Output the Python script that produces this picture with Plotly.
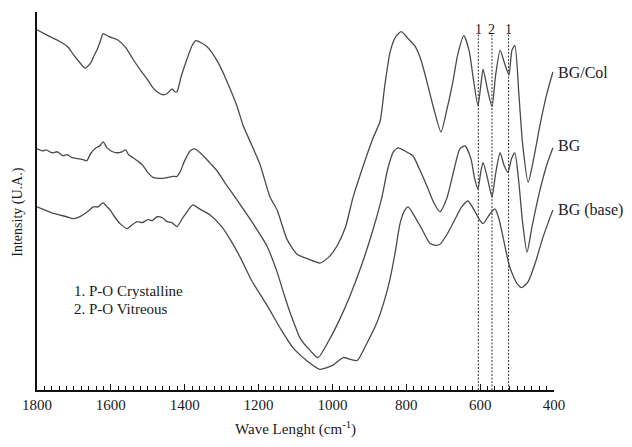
import plotly.graph_objects as go

# ---- data (wavenumber cm-1, intensity a.u.) ----
bgcol_x = [1800, 1770, 1738, 1715, 1702, 1685, 1670, 1655, 1645, 1637, 1628, 1621, 1605, 1583, 1560,
           1540, 1520, 1502, 1488, 1475, 1460, 1448, 1440, 1434, 1427, 1421, 1410, 1394, 1380, 1370,
           1340, 1310, 1285, 1260, 1242, 1220, 1196, 1169, 1150, 1123, 1096, 1065, 1034, 1010, 988,
           965, 944, 910, 890, 871, 858, 844, 830, 814, 795, 776, 760, 744, 725, 706,
           690, 674, 660, 644, 630, 618, 606, 598, 592, 580, 568, 558, 546, 534, 522,
           514, 506, 495, 485, 470, 455, 438, 420, 403]
bgcol_y = [366, 360, 354, 348, 341, 333, 327, 332, 340, 346, 355, 362, 359, 356, 348,
           336, 325, 316, 308, 303, 300, 301, 304, 306, 303, 303, 318, 336, 350, 355,
           349, 333, 313, 290, 269, 250, 229, 196, 183, 153, 138, 133, 129, 135, 146,
           165, 196, 235, 256, 273, 310, 343, 358, 364, 357, 349, 335, 313, 285, 262,
           285, 313, 342, 360, 345, 315, 289, 310, 326, 305, 288, 320, 345, 332, 320,
           345, 350, 300, 250, 211, 235, 269, 300, 323]

bg_x = [1800, 1785, 1775, 1760, 1745, 1730, 1718, 1705, 1690, 1675, 1665, 1655, 1640, 1630, 1621,
        1610, 1595, 1583, 1570, 1560, 1552, 1540, 1525, 1513, 1500, 1486, 1472, 1459, 1445, 1432,
        1421, 1412, 1400, 1385, 1372, 1350, 1330, 1313, 1290, 1258, 1220, 1177, 1150, 1130, 1115,
        1100, 1088, 1060, 1039, 1010, 980, 952, 920, 890, 866, 850, 835, 822, 800, 782,
        765, 745, 725, 709, 690, 670, 655, 641, 625, 615, 606, 598, 592, 580, 568,
        558, 546, 535, 525, 515, 506, 495, 485, 473, 460, 440, 420, 403]
bg_y = [245, 243, 244, 241, 242, 238, 239, 236, 235, 234, 233, 240, 246, 248, 252,
        246, 242, 241, 242, 244, 239, 236, 232, 228, 221, 216, 215, 215, 216, 217,
        217, 222, 233, 243, 245, 238, 230, 223, 210, 193, 172, 146, 120, 96, 79,
        64, 53, 40, 33, 50, 72, 96, 128, 163, 196, 225, 242, 246, 242, 238,
        225, 208, 190, 181, 195, 225, 245, 248, 235, 215, 204, 222, 231, 215, 196,
        220, 241, 228, 221, 235, 241, 210, 170, 140, 165, 200, 228, 246]

base_x = [1800, 1780, 1760, 1740, 1720, 1702, 1690, 1675, 1660, 1648, 1635, 1621, 1610, 1602, 1590,
          1575, 1556, 1545, 1529, 1515, 1500, 1488, 1475, 1460, 1448, 1435, 1421, 1405, 1390, 1378,
          1360, 1332, 1300, 1277, 1250, 1220, 1177, 1140, 1107, 1070, 1034, 1000, 971, 950, 933,
          910, 879, 860, 844, 830, 817, 805, 795, 780, 760, 736, 720, 709, 690, 670,
          650, 633, 615, 600, 592, 575, 560, 550, 535, 520, 500, 487, 470, 450, 430, 403]
base_y = [186, 183, 180, 178, 176, 174, 175, 178, 182, 186, 186, 190, 186, 183, 176,
          169, 164, 167, 171, 170, 173, 172, 176, 175, 171, 170, 166, 175, 183, 188,
          184, 178, 166, 153, 135, 112, 86, 62, 43, 30, 21, 25, 33, 31, 30,
          45, 69, 90, 113, 140, 169, 182, 186, 178, 165, 149, 147, 148, 158, 172,
          186, 192, 182, 172, 169, 178, 184, 175, 150, 125, 108, 104, 110, 130, 155, 183]

series = [("BG/Col", bgcol_x, bgcol_y), ("BG", bg_x, bg_y), ("BG (base)", base_x, base_y)]
band_positions = [605, 568, 523]
band_labels = ["1", "2", "1"]
notes = ["1. P-O Crystalline", "2. P-O Vitreous"]
x_ticks = [1800, 1600, 1400, 1200, 1000, 800, 600, 400]

Y_MAX = 384
FONT = "Liberation Serif, Times New Roman, serif"
LINE_COLOR = "#4a4a4a"
TEXT_COLOR = "#1a1a1a"

fig = go.Figure()
for name, xs, ys in series:
    fig.add_trace(go.Scatter(x=xs, y=ys, mode="lines", name=name,
                             line=dict(color=LINE_COLOR, width=1.3, shape="spline", smoothing=0.6),
                             showlegend=False, hoverinfo="skip"))

# dashed band markers
for bx, lab in zip(band_positions, band_labels):
    fig.add_trace(go.Scatter(x=[bx, bx], y=[0, 361], mode="lines",
                             line=dict(color="#333333", width=1, dash="2px,1.5px"),
                             showlegend=False, hoverinfo="skip"))
    fig.add_annotation(x=bx, y=366, xref="x", yref="y", text=lab, showarrow=False,
                       yanchor="middle", font=dict(family=FONT, size=14, color=TEXT_COLOR))

# series labels at right end of curves (placed just right of the plot area)
label_y = [323, 248, 183]
for (name, xs, ys), ly in zip(series, label_y):
    fig.add_annotation(x=1.004, y=ly / Y_MAX, xref="paper", yref="paper", text=name, showarrow=False,
                       xanchor="left", yanchor="middle",
                       font=dict(family=FONT, size=16, color=TEXT_COLOR))

# notes
for i, t in enumerate(notes):
    fig.add_annotation(x=1706, y=101 - i * 19, xref="x", yref="y", text=t, showarrow=False,
                       xanchor="left", yanchor="middle",
                       font=dict(family=FONT, size=15, color=TEXT_COLOR))

# y-axis title
fig.add_annotation(x=-0.036, y=0.47, xref="paper", yref="paper", text="Intensity (U.A.)",
                   textangle=-90, showarrow=False, xanchor="center", yanchor="middle",
                   font=dict(family=FONT, size=14, color=TEXT_COLOR))

fig.update_layout(
    width=632, height=447,
    margin=dict(l=37, r=78, t=12, b=51),
    paper_bgcolor="white", plot_bgcolor="white",
    font=dict(family=FONT, color=TEXT_COLOR),
    xaxis=dict(range=[1800, 400], tickvals=x_ticks, ticks="inside", ticklen=6, tickwidth=1.2,
               tickcolor="#111", showline=True, linecolor="#111", linewidth=1.5,
               showgrid=False, zeroline=False, tickfont=dict(family=FONT, size=15, color=TEXT_COLOR),
               minor=dict(dtick=20, tick0=400, ticks="inside", ticklen=4, tickwidth=1, tickcolor="#111",
                          showgrid=False),
               title=dict(text="Wave Lenght (cm<sup>-1</sup>)", font=dict(family=FONT, size=15, color=TEXT_COLOR),
                          standoff=12)),
    yaxis=dict(range=[0, Y_MAX], showline=True, linecolor="#111", linewidth=1.5, showticklabels=False,
               ticks="", showgrid=False, zeroline=False),
)

fig.write_html("out.html")
